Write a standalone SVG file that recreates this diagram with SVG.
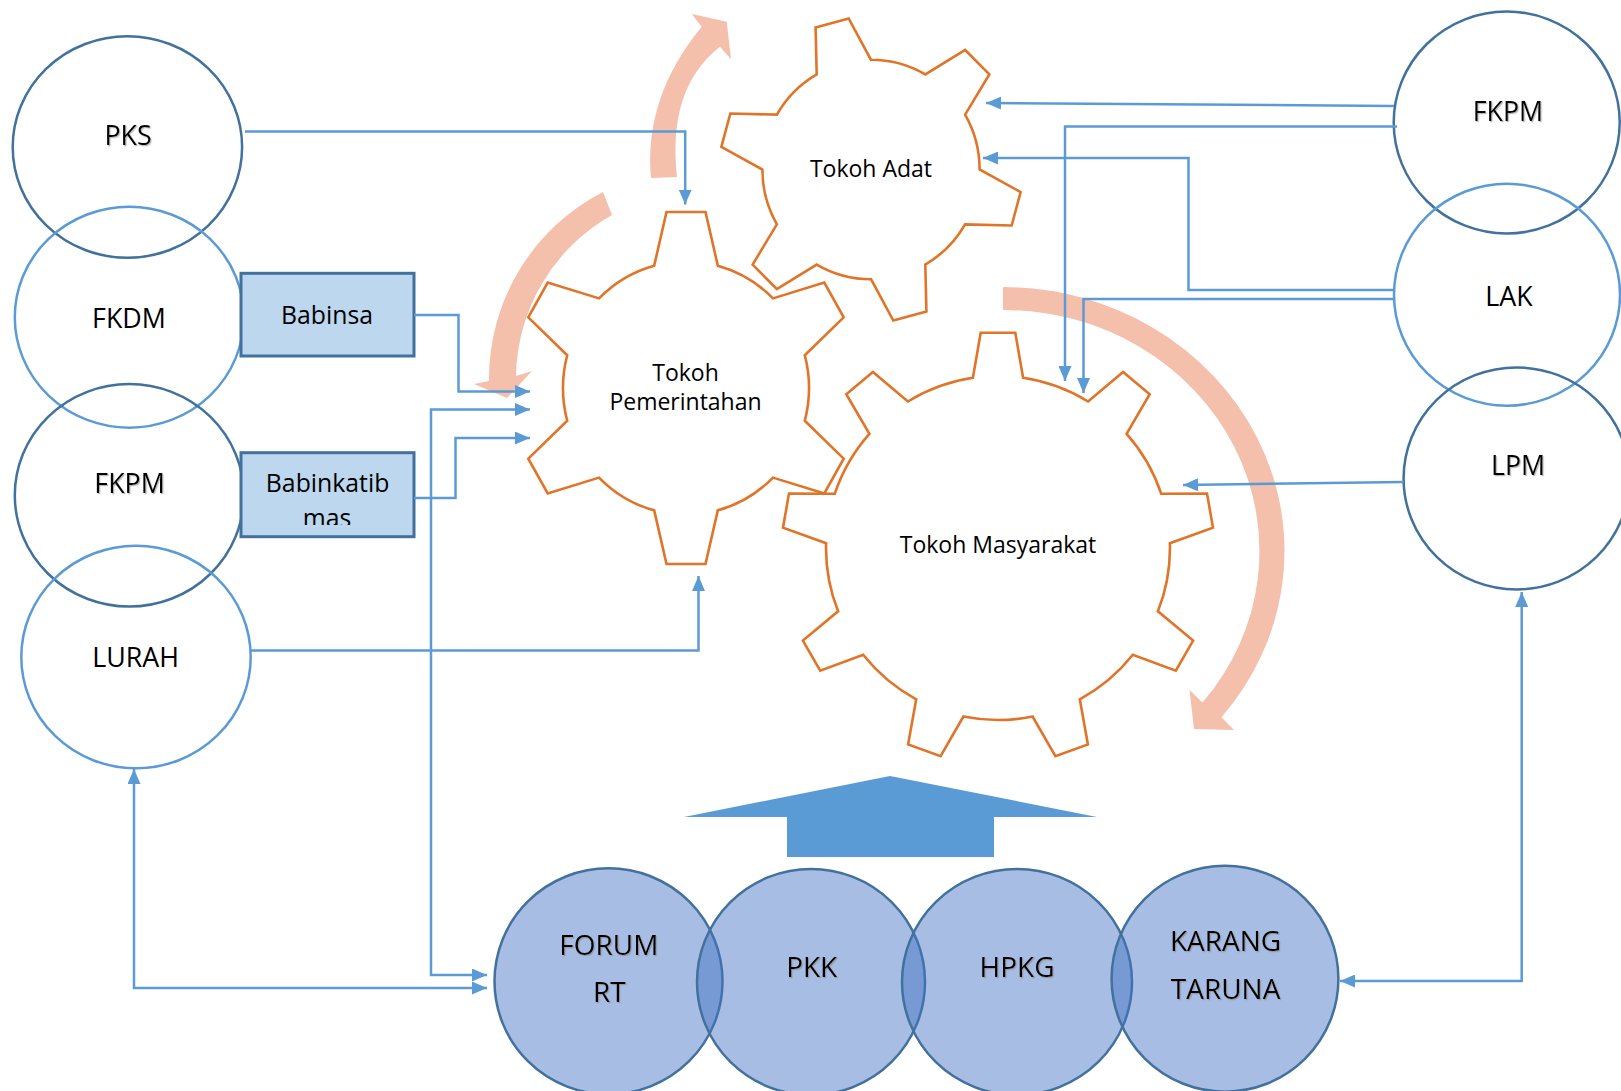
<svg xmlns="http://www.w3.org/2000/svg" width="1621" height="1091" viewBox="0 0 1621 1091">
<style>
  text { font-family: "Open Sans", "Noto Sans", "Liberation Sans", sans-serif; fill: #000; text-anchor: middle; }
  .lbl { font-size: 26.8px; }
  .gtxt { font-size: 23px; }
  .btxt { font-size: 24.8px; }
  .otxt { font-size: 28px; }
  .cdark { fill: none; stroke: #41719C; stroke-width: 2.5; }
  .clight { fill: none; stroke: #5B9BD5; stroke-width: 2.5; }
  .box { fill: #BDD7EE; stroke: #41719C; stroke-width: 3; }
  .gear { fill: #fff; stroke: #E07428; stroke-width: 2.6; stroke-linejoin: miter; }
  .pink { fill: #F4BFAB; stroke: none; }
  .org { fill: #4472C4; fill-opacity: 0.47; stroke: #41719C; stroke-width: 2.5; }
  .con { fill: none; stroke: #5B9BD5; stroke-width: 2.5; }
  .sh { filter: url(#shadow); }
</style>
<defs>
  <marker id="ah" viewBox="0 0 15 13" refX="15" refY="6.5" markerWidth="15" markerHeight="13" markerUnits="userSpaceOnUse" orient="auto-start-reverse">
    <path d="M0,0 L15,6.5 L0,13 Z" fill="#5B9BD5"/>
  </marker>
  <filter id="shadow" x="-20%" y="-30%" width="140%" height="160%">
    <feDropShadow dx="1.2" dy="1.2" stdDeviation="0.7" flood-color="#7f7f7f" flood-opacity="0.55"/>
  </filter>
  <clipPath id="clipBk"><rect x="241" y="452" width="173" height="73"/></clipPath>
</defs>
<rect x="0" y="0" width="1621" height="1091" fill="#fff"/>

<!-- pink rotation arrows -->
<g id="rotation-arrows">
  <path class="pink" d="M 651 178 Q 643.5 97.5 701.7 26.7 L 691.7 14 L 726.7 21.7 L 731 59.3 L 720 46.7 Q 667 88 677 177 Z"/>
  <path class="pink" d="M 603 192 A 210 210 0 0 0 489 381 L 474 384 L 507 398 L 532 371 L 516 376 A 188 188 0 0 1 612 215 Z"/>
  <path class="pink" d="M 1003 287 A 282 264 0 0 1 1221.5 717.3 L 1234 730 L 1194 729 L 1189.5 690 L 1202.5 702.6 A 256 241 0 0 0 1003 310 Z"/>
</g>

<!-- gears -->
<g id="node-tokoh-adat">
  <path class="gear" transform="matrix(1.015 0 0 1.025 -13.065 -1.675)" vector-effect="non-scaling-stroke" d="M 817.5 74.3 L 816.4 28.4 L 849.0 19.6 L 871 60 A 107 107 0 0 1 924.5 74.3 L 963.8 50.4 L 987.6 74.2 L 963.7 113.5 A 107 107 0 0 1 978 167 L 1018.4 189.0 L 1009.6 221.6 L 963.7 220.5 A 107 107 0 0 1 924.5 259.7 L 925.6 305.6 L 893.0 314.4 L 871 274 A 107 107 0 0 1 817.5 259.7 L 778.2 283.6 L 754.4 259.8 L 778.3 220.5 A 107 107 0 0 1 764 167 L 723.6 145.0 L 732.4 112.4 L 778.3 113.5 A 107 107 0 0 1 817.5 74.3 Z"/>
  <text class="gtxt" x="871" y="177">Tokoh Adat</text>
</g>
<g id="node-tokoh-pemerintahan">
  <path class="gear" transform="matrix(1 0 0 1.03 0 -8.55)" vector-effect="non-scaling-stroke" d="M 654.2 266.2 L 666.5 214.1 L 705.5 214.1 L 717.8 266.2 A 123 123 0 0 1 773.0 298.0 L 824.3 282.7 L 843.7 316.4 L 804.8 353.2 A 123 123 0 0 1 804.8 416.8 L 843.7 453.6 L 824.3 487.3 L 773.0 472.0 A 123 123 0 0 1 717.8 503.8 L 705.5 555.9 L 666.5 555.9 L 654.2 503.8 A 123 123 0 0 1 599.0 472.0 L 547.7 487.3 L 528.3 453.6 L 567.2 416.8 A 123 123 0 0 1 567.2 353.2 L 528.3 316.4 L 547.7 282.7 L 599.0 298.0 A 123 123 0 0 1 654.2 266.2 Z"/>
  <text class="gtxt" x="685.5" y="381">Tokoh</text>
  <text class="gtxt" x="685.5" y="410">Pemerintahan</text>
</g>
<g id="node-tokoh-masyarakat">
  <path class="gear" d="M 972.9 377.8 L 980.7 332.7 L 1015.3 332.7 L 1023.1 377.8 A 172 172 0 0 1 1088.1 401.5 L 1123.1 371.9 L 1149.7 394.2 L 1126.6 433.8 A 172 172 0 0 1 1161.2 493.7 L 1207.0 493.5 L 1213.0 527.7 L 1169.9 543.2 A 172 172 0 0 1 1157.9 611.3 L 1193.1 640.6 L 1175.8 670.6 L 1132.8 654.8 A 172 172 0 0 1 1079.8 699.3 L 1087.9 744.4 L 1055.4 756.2 L 1032.6 716.5 A 172 172 0 0 1 963.4 716.5 L 940.6 756.2 L 908.1 744.4 L 916.2 699.3 A 172 172 0 0 1 863.2 654.8 L 820.2 670.6 L 802.9 640.6 L 838.1 611.3 A 172 172 0 0 1 826.1 543.2 L 783.0 527.7 L 789.0 493.5 L 834.8 493.7 A 172 172 0 0 1 869.4 433.8 L 846.3 394.2 L 872.9 371.9 L 907.9 401.5 A 172 172 0 0 1 972.9 377.8 Z"/>
  <text class="gtxt" x="998" y="553">Tokoh Masyarakat</text>
</g>

<!-- big up arrow -->
<g id="up-arrow">
  <path d="M 890 776 L 1097 817 L 994 817 L 994 857 L 787 857 L 787 817 L 684 817 Z" fill="#5B9BD5"/>
</g>

<!-- left column -->
<g id="node-pks">
  <ellipse class="cdark" cx="127.4" cy="147" rx="114.7" ry="110.8"/>
  <text class="lbl sh" x="128" y="145">PKS</text>
</g>
<g id="node-fkdm">
  <ellipse class="clight" cx="129.3" cy="317.2" rx="114.5" ry="110.5"/>
  <text class="lbl" x="129" y="328">FKDM</text>
</g>
<g id="node-fkpm-left">
  <ellipse class="cdark" cx="129.3" cy="495.3" rx="114.5" ry="111.3"/>
  <text class="lbl sh" x="129.6" y="492.7">FKPM</text>
</g>
<g id="node-lurah">
  <ellipse class="clight" cx="136" cy="657" rx="114.7" ry="111.3"/>
  <text class="lbl" x="135.7" y="667.3">LURAH</text>
</g>
<g id="node-babinsa">
  <rect class="box" x="241" y="273.3" width="173" height="82.7"/>
  <text class="btxt" x="327" y="324.3">Babinsa</text>
</g>
<g id="node-babinkatibmas">
  <rect class="box" x="241" y="452.7" width="173" height="84"/>
  <text class="btxt" x="327.6" y="491.7">Babinkatib</text>
  <text class="btxt" x="327" y="526.5" clip-path="url(#clipBk)">mas</text>
</g>

<!-- right column -->
<g id="node-fkpm-right">
  <ellipse class="cdark" cx="1506.7" cy="122.5" rx="113" ry="111"/>
  <text class="lbl sh" x="1508" y="120.5">FKPM</text>
</g>
<g id="node-lak">
  <ellipse class="clight" cx="1507" cy="294.7" rx="113" ry="111"/>
  <text class="lbl" x="1509" y="306">LAK</text>
</g>
<g id="node-lpm">
  <ellipse class="cdark" cx="1516.6" cy="478.4" rx="113" ry="111"/>
  <text class="lbl sh" x="1518" y="474.6">LPM</text>
</g>

<!-- bottom organisations -->
<g id="node-forum-rt">
  <ellipse class="org" cx="608.5" cy="981.3" rx="114" ry="113"/>
</g>
<g id="node-pkk">
  <ellipse class="org" cx="811" cy="982" rx="114" ry="113"/>
</g>
<g id="node-hpkg">
  <ellipse class="org" cx="1017" cy="982" rx="115" ry="113"/>
</g>
<g id="node-karang-taruna">
  <ellipse class="org" cx="1225" cy="978.7" rx="113.4" ry="113"/>
</g>
<g id="bottom-labels">
  <text class="otxt sh" x="608.8" y="955">FORUM</text>
  <text class="otxt sh" x="609.3" y="1002">RT</text>
  <text class="otxt sh" x="811.7" y="977">PKK</text>
  <text class="otxt sh" x="1017" y="977">HPKG</text>
  <text class="otxt sh" x="1225.6" y="951">KARANG</text>
  <text class="otxt sh" x="1225.6" y="999">TARUNA</text>
</g>

<!-- connectors -->
<g id="connectors">
  <path class="con" marker-end="url(#ah)" d="M 245 131.5 H 685.2 V 204.5"/>
  <path class="con" marker-end="url(#ah)" d="M 414 315 H 458.5 V 391.5 H 530"/>
  <path class="con" marker-start="url(#ah)" marker-end="url(#ah)" d="M 530 409.5 H 431 V 975 H 487"/>
  <path class="con" marker-end="url(#ah)" d="M 414 498 H 455.5 V 438 H 530"/>
  <path class="con" marker-end="url(#ah)" d="M 250.5 650.5 H 698.5 V 576"/>
  <path class="con" marker-start="url(#ah)" marker-end="url(#ah)" d="M 134 769 V 988 H 487"/>
  <path class="con" marker-end="url(#ah)" d="M 1394 106 L 986 103"/>
  <path class="con" marker-end="url(#ah)" d="M 1397 126.5 H 1065 V 381"/>
  <path class="con" marker-end="url(#ah)" d="M 1394 290 H 1188.5 V 158 H 983"/>
  <path class="con" marker-end="url(#ah)" d="M 1394 299 H 1083.5 V 393"/>
  <path class="con" marker-end="url(#ah)" d="M 1403.5 482 L 1183 485"/>
  <path class="con" marker-start="url(#ah)" marker-end="url(#ah)" d="M 1340 981 H 1521.7 V 592"/>
</g>
</svg>
